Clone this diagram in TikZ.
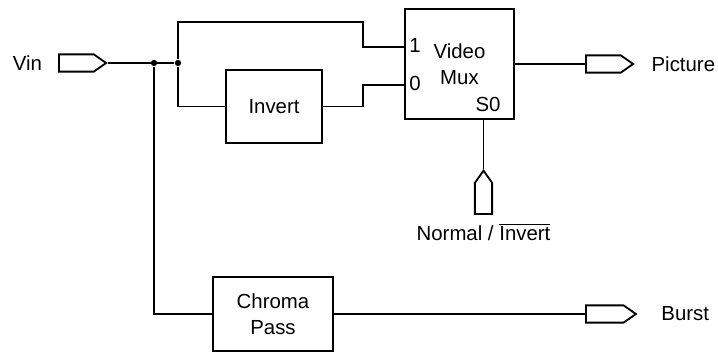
\documentclass[tikz,border=0pt]{standalone}
\usepackage{fontspec}
\setmainfont{Liberation Sans}
\usetikzlibrary{shapes.symbols,positioning}

\begin{document}
\begin{tikzpicture}[
  x=0.025cm, y=-0.025cm,
  font=\fontsize{14.5}{18.5}\selectfont,
  line width=1.3pt,
  block/.style={draw, align=center, inner sep=0pt},
  port/.style={draw, signal, signal to=east, signal pointer angle=70,
    minimum width=1.18cm, minimum height=0.43cm, inner sep=0pt},
  pin/.style={inner sep=0pt},
  dot/.style={circle, fill, inner sep=0pt, minimum size=4.5pt},
]
\useasboundingbox (0,0) rectangle (718,353);

% input side
\node[port, anchor=west] (vinport) at (58,63) {};
\node[pin, left=0.375cm of vinport] (vin) {Vin};
\node[dot] (split1) at (154,63) {};
\node[dot] (split2) at (178,63) {};

% blocks
\node[block, minimum width=2.4cm, minimum height=1.825cm] (invert) at (274,106.5) {Invert};
\node[block, minimum width=2.725cm, minimum height=2.75cm] (mux) at (459.5,64) {Video\\Mux};
\node[block, minimum width=3cm, minimum height=1.85cm] (chroma) at (273,314) {Chroma\\Pass};

% mux pins
\coordinate (in1) at (405,47);
\coordinate (in0) at (405,85);
\coordinate (sel) at (483.5,119);
\node[pin] (one) at (415,45) {1};
\node[pin] (zero) at (415,83) {0};
\node[pin] (s0) at (488,104) {S0};

% outputs
\node[port, anchor=west] (picport) at (585,64) {};
\node[pin, right=0.4cm of picport] (picture) {Picture};
\node[port, anchor=west, minimum width=1.25cm] (burstport) at (585,314) {};
\node[pin, right=0.575cm of burstport] (burst) {Burst};
\node[port, signal to=north, anchor=south, minimum width=0.43cm, minimum height=0.78cm] (selport) at (483.5,215) {};
\node[pin] (normal) at (483.5,232) {Normal / $\overline{\mbox{Invert}}$};

% wires
\draw (vinport.east) -- (split2);
\draw (split2) |- (363,22) |- (in1);
\draw (split2) |- (invert.west);
\draw (invert.east) -| (363,85) -- (in0);
\draw (mux.east) -- (picport.west);
\draw (sel) -- (selport.north);
\draw (split1) |- (chroma.west);
\draw (chroma.east) -- (burstport.west);
\end{tikzpicture}
\end{document}
